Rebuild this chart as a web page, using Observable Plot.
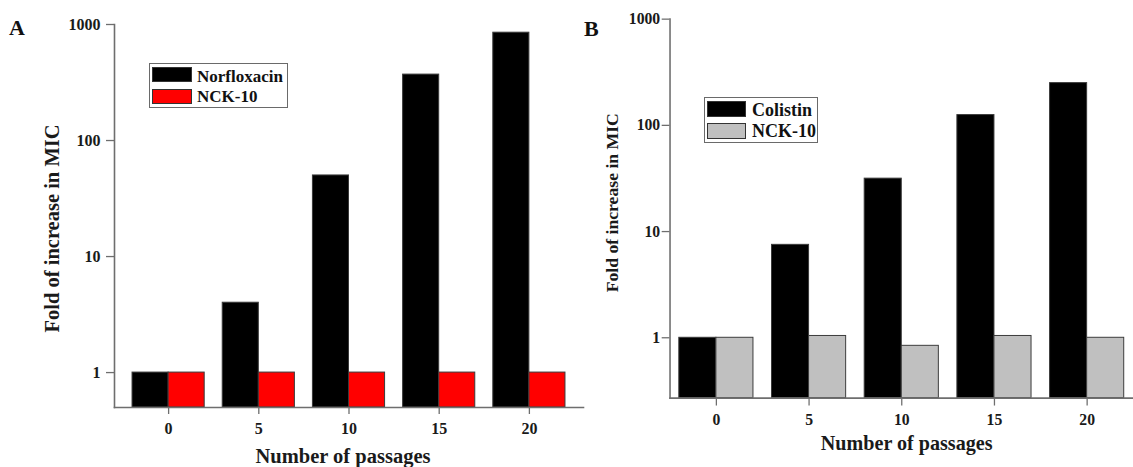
<!DOCTYPE html>
<html>
<head>
<meta charset="utf-8">
<script src="https://cdn.jsdelivr.net/npm/d3@7"></script>
<script src="https://cdn.jsdelivr.net/npm/@observablehq/plot@0.6"></script>
<style>
  html, body { margin: 0; padding: 0; background: #fff; overflow: hidden; }
  #root { position: relative; width: 1133px; height: 467px; overflow: hidden; font-family: 'Liberation Serif', 'Times New Roman', serif; font-weight: bold; color: #111; }
  .panel { position: absolute; top: 0; height: 467px; overflow: hidden; }
  .letter { position: absolute; font-size: 22px; line-height: 22px; }
  .legend { position: absolute; border: 1px solid #6a6a6a; background: #fff; box-sizing: border-box; }
  .sw { position: absolute; box-sizing: border-box; border: 1px solid #333; }
  .lt { position: absolute; white-space: nowrap; }
</style>
</head>
<body>
<div id="root"></div>
<script>
// ---------- data ----------
const passages = [0, 5, 10, 15, 20];
const seriesA = ["Norfloxacin", "NCK-10"];
const norfloxacin = [1, 4, 50, 370, 850];
const nckA = [1, 1, 1, 1, 1];
const seriesB = ["Colistin", "NCK-10"];
const colistin = [1, 7.5, 31.5, 125, 250];
const nckB = [1, 1.04, 0.84, 1.04, 1.0];
const yTicks = [1, 10, 100, 1000];
const yLabel = "Fold of increase in MIC";
const xLabel = "Number of passages";

const root = document.getElementById("root");
const axisColor = "#6e6e6e";
const font = "'Liberation Serif', 'Times New Roman', serif";

function rowsOf(names, a, b) {
  const out = [];
  passages.forEach((p, i) => {
    out.push({passage: p, series: names[0], value: a[i]});
    out.push({passage: p, series: names[1], value: b[i]});
  });
  return out;
}

function panel(cfg) {
  const rows = rowsOf(cfg.names, cfg.a, cfg.b);
  const n = passages.length;
  const rangeW = cfg.width - cfg.marginLeft - cfg.marginRight;
  const step = rangeW / (n - cfg.pi + 2 * cfg.po);
  const bw = step * (1 - cfg.pi);
  const yMin = cfg.yMin;
  return Plot.plot({
    width: cfg.width, height: 467,
    marginLeft: cfg.marginLeft, marginRight: cfg.marginRight,
    marginTop: cfg.marginTop, marginBottom: cfg.marginBottom,
    style: {fontFamily: font, fontWeight: "bold", background: "transparent", color: "#111"},
    x: {type: "band", domain: passages, paddingInner: cfg.pi, paddingOuter: cfg.po, round: false},
    y: {type: "log", domain: [yMin, 1000]},
    marks: [
      Plot.barY(rows.filter(d => d.series === cfg.names[0]), {
        x: "passage", y1: () => yMin, y2: "value", fill: cfg.colors[0],
        stroke: "#3a3a3a", strokeWidth: 1, insetRight: bw / 2
      }),
      Plot.barY(rows.filter(d => d.series === cfg.names[1]), {
        x: "passage", y1: () => yMin, y2: "value", fill: cfg.colors[1],
        stroke: "#3a3a3a", strokeWidth: 1, insetLeft: bw / 2
      }),
      Plot.axisY({ticks: yTicks, tickFormat: d => String(d), tickSize: 8, tickPadding: cfg.yPad,
        fontSize: 16, stroke: axisColor, strokeWidth: 1.3, fill: "#1a1a1a", label: null}),
      Plot.axisX({tickSize: cfg.xTick, tickPadding: 8, fontSize: 16, stroke: axisColor, strokeWidth: 1.3,
        fill: "#1a1a1a", label: null}),
      Plot.frame({anchor: "left", stroke: axisColor, strokeWidth: 1.6}),
      Plot.frame({anchor: "bottom", stroke: axisColor, strokeWidth: 1.6}),
      Plot.text([yLabel], {text: d => d, frameAnchor: "left", rotate: -90, dx: cfg.ylDx, dy: cfg.ylDy,
        fontSize: cfg.ylSize, textAnchor: "middle", lineAnchor: "middle", fill: "#1a1a1a"}),
      Plot.text([xLabel], {text: d => d, frameAnchor: "bottom", dx: cfg.xlDx, dy: cfg.xlDy,
        fontSize: 20.5, textAnchor: "middle", lineAnchor: "middle", fill: "#1a1a1a"})
    ]
  });
}

function addPanel(left, boxW, cfg) {
  const div = document.createElement("div");
  div.className = "panel";
  div.style.left = left + "px";
  div.style.width = boxW + "px";
  div.appendChild(panel(cfg));
  root.appendChild(div);
}

function addLegend(L) {
  const box = document.createElement("div");
  box.className = "legend";
  Object.assign(box.style, {left: L.x + "px", top: L.y + "px", width: L.w + "px", height: L.h + "px"});
  L.names.forEach((name, i) => {
    const sw = document.createElement("div");
    sw.className = "sw";
    Object.assign(sw.style, {left: "2px", top: (3 + i * L.rowStep) + "px", width: L.swW + "px", height: L.swH + "px", background: L.colors[i]});
    box.appendChild(sw);
    const t = document.createElement("div");
    t.className = "lt";
    t.textContent = name;
    Object.assign(t.style, {left: L.textX + "px", top: (L.textTop + i * L.textStep) + "px", fontSize: L.size + "px", lineHeight: L.size + "px"});
    box.appendChild(t);
  });
  root.appendChild(box);
}

function addLetter(txt, x, y) {
  const d = document.createElement("div");
  d.className = "letter";
  d.textContent = txt;
  d.style.left = x + "px";
  d.style.top = y + "px";
  root.appendChild(d);
}

addPanel(0, 590, {
  names: seriesA, a: norfloxacin, b: nckA, colors: ["#000000", "#ff0000"],
  width: 590, marginLeft: 114, marginRight: 7, marginTop: 24, marginBottom: 60,
  pi: 0.2, po: 0.2, yMin: 0.5, yPad: 6, xTick: 7,
  ylDx: -62, ylDy: 12.5, ylSize: 20.5, xlDx: -6, xlDy: 48.5
});
addPanel(590, 543, {
  names: seriesB, a: colistin, b: nckB, colors: ["#000000", "#c0c0c0"],
  width: 553, marginLeft: 81, marginRight: 0, marginTop: 19, marginBottom: 62,
  pi: 0.2, po: 0.1, yMin: 0.27, yPad: 2, xTick: 8,
  ylDx: -59, ylDy: -6, ylSize: 18, xlDx: 5, xlDy: 46.5
});

addLegend({names: seriesA, colors: ["#000000", "#ff0000"], x: 149, y: 63, w: 139, h: 45,
  rowStep: 22, swW: 40, swH: 15, textX: 47, textTop: 4, textStep: 20, size: 17});
addLegend({names: seriesB, colors: ["#000000", "#c0c0c0"], x: 704, y: 97, w: 114, h: 46,
  rowStep: 22, swW: 39, swH: 16, textX: 47, textTop: 3, textStep: 21, size: 18});

addLetter("A", 9, 17);
addLetter("B", 584, 18);
</script>
</body>
</html>
